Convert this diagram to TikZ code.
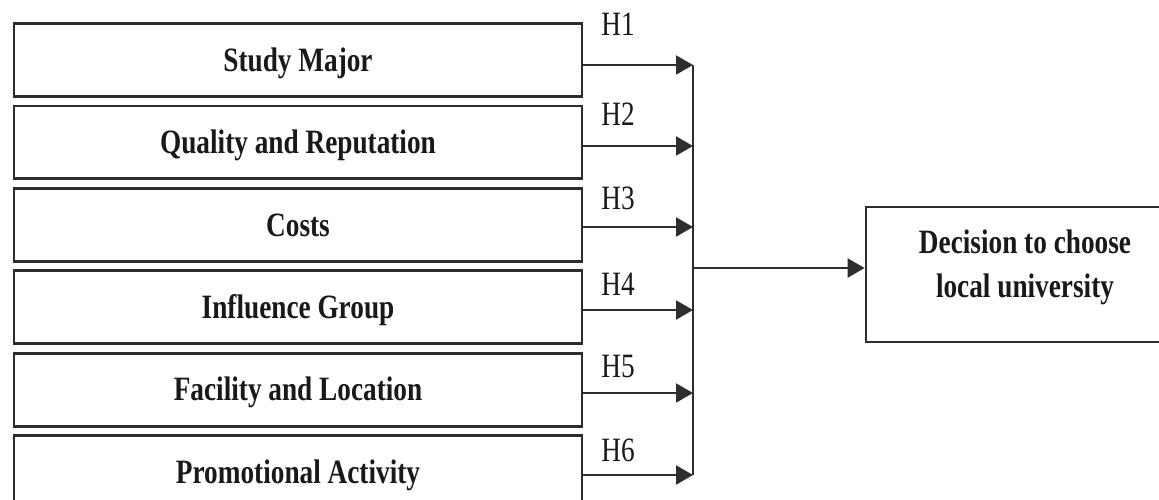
\documentclass[tikz,border=0pt]{standalone}
\usepackage{fontspec}
\setmainfont{Liberation Serif}[FakeStretch=0.8]
\usetikzlibrary{arrows.meta, positioning}
\definecolor{ink}{RGB}{25, 25, 25}
\definecolor{rulegray}{RGB}{45, 45, 45}

\begin{document}
\begin{tikzpicture}[
    x=0.02cm, y=-0.02cm,
    factor/.style  = {draw=rulegray, line width=1.6pt, minimum width=11.36cm, minimum height=1.46cm, inner sep=0pt,
                      font=\fontsize{19.4}{25}\selectfont\bfseries\color{ink}, text height=12.8pt, text depth=0pt},
    hyp/.style     = {font=\fontsize{19.4}{25}\selectfont\color{ink}, inner sep=0pt, text height=12.8pt, text depth=0pt},
    outcome/.style = {draw=rulegray, line width=1.6pt, minimum width=6.36cm, minimum height=2.7cm, inner sep=0pt},
    outtxt/.style  = {font=\fontsize{19.4}{25}\selectfont\bfseries\color{ink}, align=center, inner sep=0pt,
                      text height=37.8pt, text depth=0pt},
    arr/.style     = {color=rulegray, line width=1.2pt, -{Triangle[length=0.34cm, width=0.38cm]}},
    bus/.style     = {color=rulegray, line width=1.2pt},
  ]
    \path[use as bounding box] (0,0) rectangle (1159,500);
    \clip (0,0) rectangle (1159,500);

    % --- factors ---
    \node[factor] (f1) at (298, 60)    {Study Major};
    \node[factor] (f2) at (298, 142.4) {Quality and Reputation};
    \node[factor] (f3) at (298, 224.8) {Costs};
    \node[factor] (f4) at (298, 307.2) {Influence Group};
    \node[factor] (f5) at (298, 389.6) {Facility and Location};
    \node[factor] (f6) at (298, 472)   {Promotional Activity};

    % joints on the bus
    \coordinate (j1) at (693, 65);
    \coordinate (j2) at (693, 146);
    \coordinate (j3) at (693, 227);
    \coordinate (j4) at (693, 310);
    \coordinate (j5) at (693, 393);
    \coordinate (j6) at (693, 475);
    \coordinate (jm) at (693, 268);

    % --- hypotheses ---
    \node[hyp] (h1) at (618, 24)  {H1};
    \node[hyp] (h2) at (618, 114) {H2};
    \node[hyp] (h3) at (618, 198) {H3};
    \node[hyp] (h4) at (618, 284) {H4};
    \node[hyp] (h5) at (618, 366) {H5};
    \node[hyp] (h6) at (618, 450) {H6};

    \draw[arr] (f1.east |- j1) -- (j1);
    \draw[arr] (f2.east |- j2) -- (j2);
    \draw[arr] (f3.east |- j3) -- (j3);
    \draw[arr] (f4.east |- j4) -- (j4);
    \draw[arr] (f5.east |- j5) -- (j5);
    \draw[arr] (f6.east |- j6) -- (j6);

    \draw[bus] (j1) -- (j6);

    % --- outcome ---
    \node[outcome] (dec) at (1025, 274.5) {};
    \node[outtxt] (dectxt) at (1025, 264) {Decision to choose\\local university};

    \draw[arr] (jm) -- (dec.west |- jm);

  \end{tikzpicture}
\end{document}
